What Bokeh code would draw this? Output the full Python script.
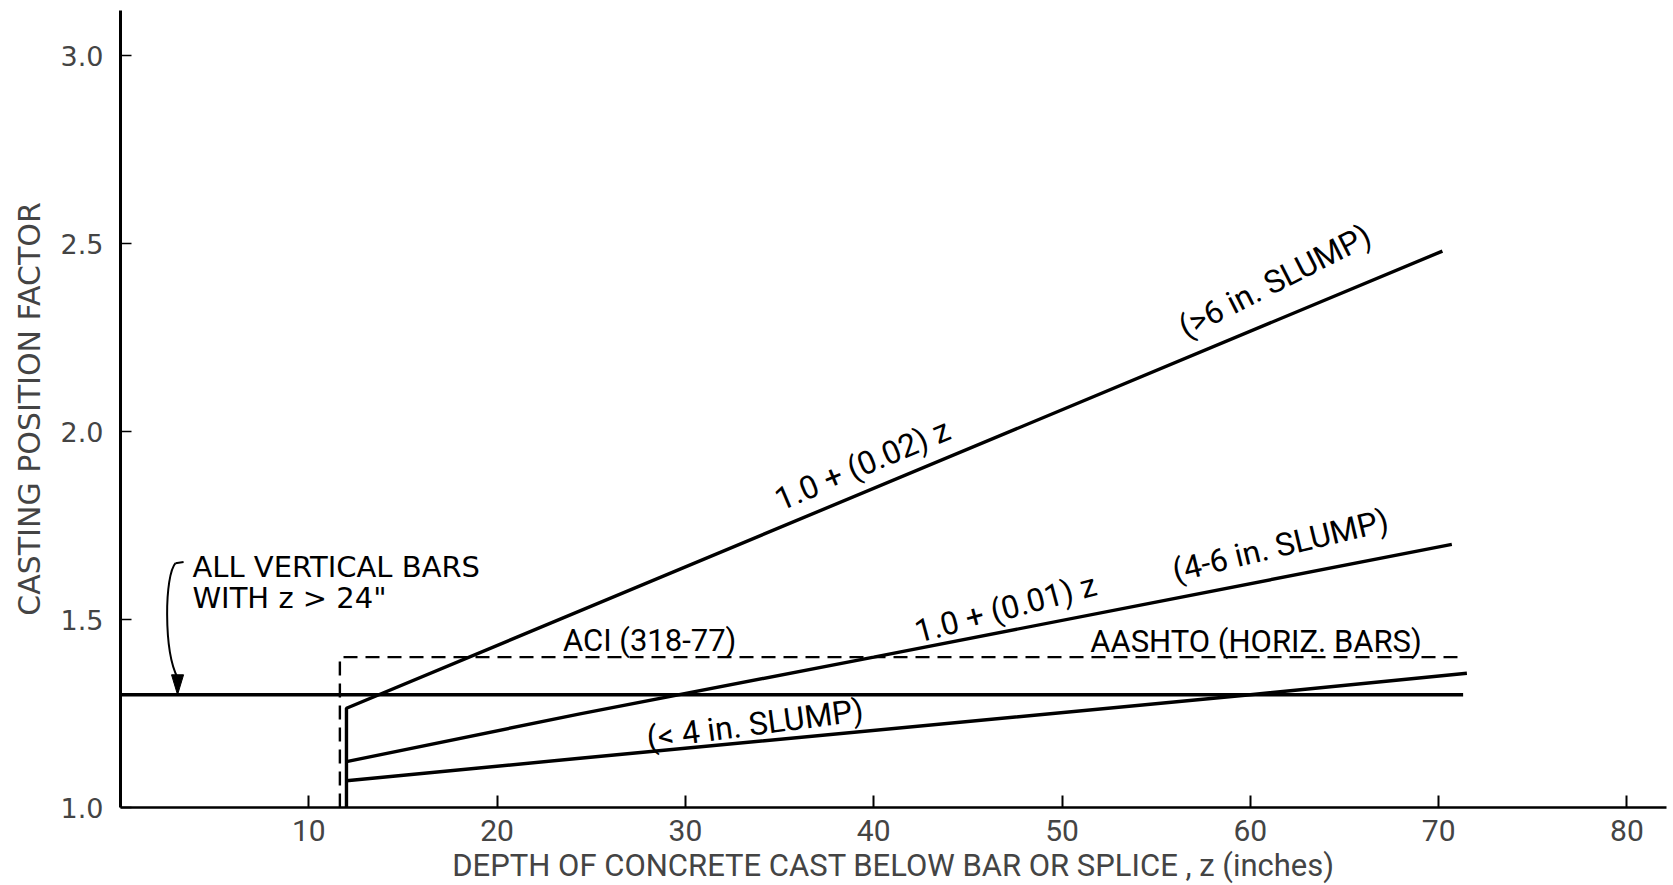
from bokeh.plotting import figure
from bokeh.models import Label, FixedTicker, Range1d
from bokeh.embed import file_html
from bokeh.resources import INLINE

# ---- data ----
x_ticks = [10, 20, 30, 40, 50, 60, 70, 80]
x_tick_labels = ["10", "20", "30", "40", "50", "60", "70", "80"]
y_ticks = [1.0, 1.5, 2.0, 2.5, 3.0]
y_tick_labels = ["1.0", "1.5", "2.0", "2.5", "3.0"]

# all vertical bars with z > 24"
vert_z = [0.0, 71.3]
vert_f = [1.3, 1.3]
# ACI (318-77) / AASHTO (dashed)
aci_z = [11.65, 11.65, 71.0]
aci_f = [1.0, 1.4, 1.4]
# 1.0 + (0.02) z  (>6 in. slump)
hi_z = [12.0, 12.0, 70.2]
hi_f = [1.0, 1.264, 2.48]
# 1.0 + (0.01) z  (4-6 in. slump)
mid_z = [12.0, 24.4, 40.0, 70.7]
mid_f = [1.122, 1.249, 1.40, 1.70]
# (< 4 in. slump)
lo_z = [12.0, 24.4, 60.0, 71.5]
lo_f = [1.071, 1.131, 1.30, 1.357]

p = figure(frame_width=1546, frame_height=797,
           x_range=Range1d(0, 82.1), y_range=Range1d(1.0, 3.12),
           output_backend="svg", toolbar_location=None,
           min_border_left=120, min_border_top=10, min_border_right=4,
           min_border_bottom=40)
p.xgrid.visible = False
p.ygrid.visible = False
p.outline_line_color = None
p.background_fill_color = "white"

LW = 3.4
p.line(vert_z, vert_f, line_color="black", line_width=LW)
p.line(aci_z, aci_f, line_color="black", line_width=2.4, line_dash="14 8")
p.line(hi_z, hi_f, line_color="black", line_width=LW)
p.line(mid_z, mid_f, line_color="black", line_width=LW)
p.line(lo_z, lo_f, line_color="black", line_width=LW)

# axes
xa = p.xaxis[0]
xa.ticker = FixedTicker(ticks=x_ticks)
xa.major_label_overrides = {t: s for t, s in zip(x_ticks, x_tick_labels)}
xa.axis_line_width = 2.5
xa.major_tick_in = 12
xa.major_tick_out = 0
xa.major_tick_line_width = 2
xa.minor_tick_line_color = None
xa.major_label_text_font = "Roboto"
xa.major_label_text_font_size = "30px"
xa.major_label_standoff = 12
xa.axis_label = "DEPTH OF CONCRETE CAST BELOW BAR OR SPLICE , z (inches)"
xa.axis_label_text_font = "Roboto"
xa.axis_label_text_font_size = "31px"
xa.axis_label_text_font_style = "normal"
xa.axis_label_standoff = 3

ya = p.yaxis[0]
ya.ticker = FixedTicker(ticks=y_ticks)
ya.major_label_overrides = {t: s for t, s in zip(y_ticks, y_tick_labels)}
ya.axis_line_width = 3
ya.major_tick_in = 11
ya.major_tick_out = 0
ya.major_tick_line_width = 1.5
ya.minor_tick_line_color = None
ya.major_label_text_font = "DejaVu Sans"
ya.major_label_text_font_size = "27px"
ya.major_label_standoff = 17
ya.axis_label = "CASTING POSITION FACTOR"
ya.axis_label_text_font = "DejaVu Sans"
ya.axis_label_text_font_size = "30px"
ya.axis_label_text_font_style = "normal"
ya.axis_label_standoff = 11

def lab(x, y, text, angle=0, font="Roboto", size="31px", align="center"):
    p.add_layout(Label(x=x, y=y, text=text, angle=angle, angle_units="deg",
                       text_align=align, text_baseline="middle",
                       text_font=font, text_font_size=size, text_color="black"))

lab(39.4, 1.912, "1.0 + (0.02) z", angle=23, size="32px")
lab(61.3, 2.400, "(>6 in. SLUMP)", angle=27, size="32px")
lab(47.0, 1.530, "1.0 + (0.01) z", angle=15, size="32px")
lab(61.6, 1.697, "(4-6 in. SLUMP)", angle=13.5, size="32px")
lab(28.1, 1.443, "ACI (318-77)")
lab(60.3, 1.441, "AASHTO (HORIZ. BARS)")
lab(33.7, 1.222, "(< 4 in. SLUMP)", angle=7.5, size="32px")
lab(3.82, 1.640, "ALL VERTICAL BARS", font="DejaVu Sans", size="29px", align="left")
lab(3.82, 1.558, "WITH  z > 24\"", font="DejaVu Sans", size="29px", align="left")

# curved arrow pointing at the z > 24" line
p.line([3.35, 2.92], [1.653, 1.650], line_color="black", line_width=2)
p.bezier(x0=[2.92], y0=[1.650], x1=[3.03], y1=[1.345],
         cx0=[2.34], cy0=[1.618], cx1=[2.28], cy1=[1.419],
         line_color="black", line_width=2)
p.patch([2.71, 3.03, 3.35], [1.353, 1.300, 1.353], fill_color="black", line_color="black")

open("out.html", "w").write(file_html(p, INLINE))
